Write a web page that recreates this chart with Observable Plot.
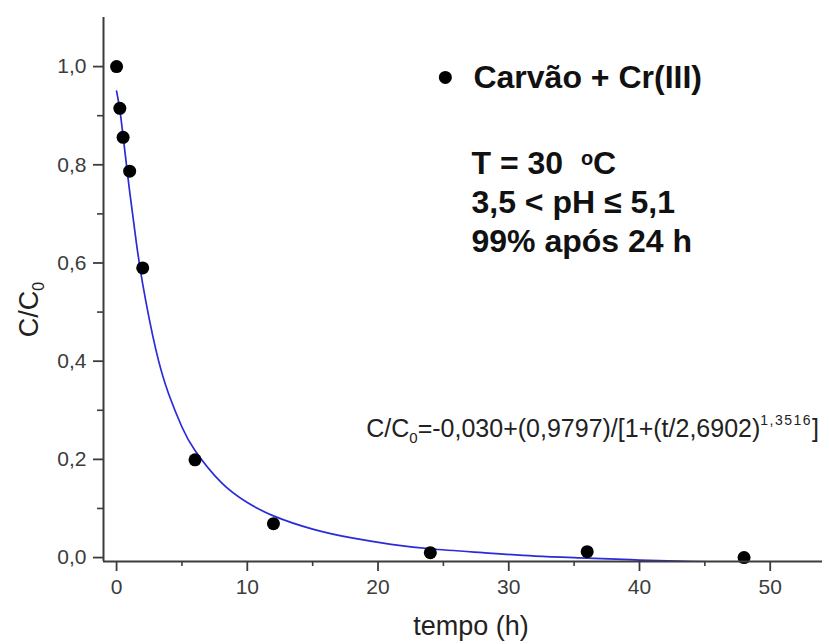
<!DOCTYPE html>
<html><head><meta charset="utf-8">
<script src="https://cdn.jsdelivr.net/npm/d3@7"></script>
<script src="https://cdn.jsdelivr.net/npm/@observablehq/plot@0.6"></script>
<style>
html,body{margin:0;padding:0;background:#fff;}
</style></head><body><div id="chart"></div>
<script>
// Measured points
const time = [0, 0.25, 0.5, 1, 2, 6, 12, 24, 36, 48];
const ratio = [1.0, 0.915, 0.856, 0.787, 0.59, 0.199, 0.069, 0.010, 0.012, 0.0];
// Fitted curve
const fitTime = [0, 0.25, 0.5, 1, 1.5, 2, 3, 4, 5, 6, 8, 10, 12, 15, 18, 21, 24, 28, 32, 36, 40, 44, 48];
const fitRatio = [0.950, 0.912, 0.858, 0.746, 0.644, 0.557, 0.424, 0.332, 0.266, 0.218, 0.153, 0.112, 0.085, 0.058, 0.040, 0.027, 0.018, 0.010, 0.003, -0.001, -0.005, -0.008, -0.010];
// Ticks
const xTicks = [0, 10, 20, 30, 40, 50];
const xMinorTicks = [5, 15, 25, 35, 45];
const yTicks = [0, 0.2, 0.4, 0.6, 0.8, 1.0];
const yTickLabels = ["0,0", "0,2", "0,4", "0,6", "0,8", "1,0"];
const yMinorTicks = [0.1, 0.3, 0.5, 0.7, 0.9];
// Texts
const seriesName = "Carvão + Cr(III)";
const infoLines = ["T = 30  oC", "3,5 < pH ≤ 5,1", "99% após 24 h"];
const eqParts = ["C/C", "0", "=-0,030+(0,9797)/[1+(t/2,6902)", "1,3516", "]"];
const xTitle = "tempo (h)";
const yTitleParts = ["C/C", "0"];

const xDomain = [-1, 54];
const yDomain = [-0.008, 1.1];
const points = time.map((t, i) => ({t, c: ratio[i]}));
const fit = fitTime.map((t, i) => ({t, c: fitRatio[i]}));
const font = "'Liberation Sans', Arial, Helvetica, sans-serif";
const axisColor = "#3c3c3c";

const svg = Plot.plot({
  width: 829, height: 644,
  marginLeft: 103, marginRight: 7, marginTop: 17, marginBottom: 83,
  style: {fontFamily: font, fontSize: "21px", color: axisColor, background: "#fff", overflow: "visible"},
  x: {domain: xDomain},
  y: {domain: yDomain},
  marks: [
    Plot.line(fit, {x: "t", y: "c", stroke: "#2b2bd8", strokeWidth: 1.7, curve: "natural", clip: true}),
    Plot.dot(points, {x: "t", y: "c", r: 6.5, fill: "#000"}),
    Plot.ruleX([xDomain[0]], {stroke: axisColor, strokeWidth: 2}),
    Plot.ruleY([yDomain[0]], {stroke: axisColor, strokeWidth: 2}),
    Plot.axisX({ticks: xTicks, tickSize: 10, tickPadding: 8, strokeWidth: 1.8, fontSize: 21, fill: axisColor, label: null}),
    Plot.axisX({ticks: xMinorTicks, tickSize: 5, strokeWidth: 1.6, tickFormat: () => "", label: null}),
    Plot.axisY({ticks: yTicks, tickSize: 10, tickPadding: 7, strokeWidth: 1.8, fontSize: 21, fill: axisColor,
      tickFormat: d => yTickLabels[yTicks.indexOf(d)], label: null}),
    Plot.axisY({ticks: yMinorTicks, tickSize: 6, strokeWidth: 1.6, tickFormat: () => "", label: null}),
    // axis titles
    Plot.text([xTitle], {text: d => d, frameAnchor: "bottom", textAnchor: "middle", dx: 8, dy: 65, fontSize: 27, fill: "#222", lineAnchor: "middle"}),
    Plot.text([yTitleParts.join("")], {text: d => d, frameAnchor: "left", textAnchor: "middle", dx: -74, dy: 20, rotate: -90, fontSize: 27, fill: "#222", lineAnchor: "middle"}),
    // legend
    Plot.dot([seriesName], {x: 25.15, y: 0.978, r: 6.5, fill: "#000"}),
    Plot.text([seriesName], {text: d => d, x: 27.3, y: 0.978, textAnchor: "start", lineAnchor: "middle", fontSize: 32, fontWeight: "bold", fill: "#111"}),
    // info block
    Plot.text([infoLines.join("\n")], {text: d => d, x: 27.15, y: 0.727, textAnchor: "start", lineAnchor: "middle", lineHeight: 1.22, fontSize: 32, fontWeight: "bold", fill: "#111"}),
    // equation
    Plot.text([eqParts.join("")], {text: d => d, x: 19.1, y: 0.262, textAnchor: "start", lineAnchor: "middle", fontSize: 25, fill: "#222"})
  ]
});
document.getElementById("chart").appendChild(svg);

// Rich text: subscripts / superscripts
function findText(str) {
  return Array.from(svg.querySelectorAll("text")).find(t => t.textContent === str);
}
const eqEl = findText(eqParts.join(""));
if (eqEl) {
  eqEl.textContent = "";
  const s = d3.select(eqEl);
  s.append("tspan").text(eqParts[0]);
  s.append("tspan").attr("font-size", "15px").attr("dy", "6").text(eqParts[1]);
  s.append("tspan").attr("dy", "-6").text(eqParts[2]);
  s.append("tspan").attr("font-size", "14px").attr("letter-spacing", "1.5px").attr("dy", "-12").text(eqParts[3]);
  s.append("tspan").attr("dy", "12").text(eqParts[4]);
}
const yEl = findText(yTitleParts.join(""));
if (yEl) {
  yEl.textContent = "";
  const s = d3.select(yEl);
  s.append("tspan").text(yTitleParts[0]);
  s.append("tspan").attr("font-size", "16px").attr("dy", "6").text(yTitleParts[1]);
}
const infoEl = findText(infoLines.join(""));
const firstLine = infoEl ? infoEl.querySelector("tspan") : Array.from(svg.querySelectorAll("tspan")).find(t => t.textContent === infoLines[0]);
if (firstLine) {
  firstLine.textContent = "";
  const s = d3.select(firstLine);
  s.append("tspan").text("T = 30  ");
  s.append("tspan").attr("font-size", "20px").attr("dy", "-9").text("o");
  s.append("tspan").attr("dy", "9").text("C");
}
</script>
</body></html>
